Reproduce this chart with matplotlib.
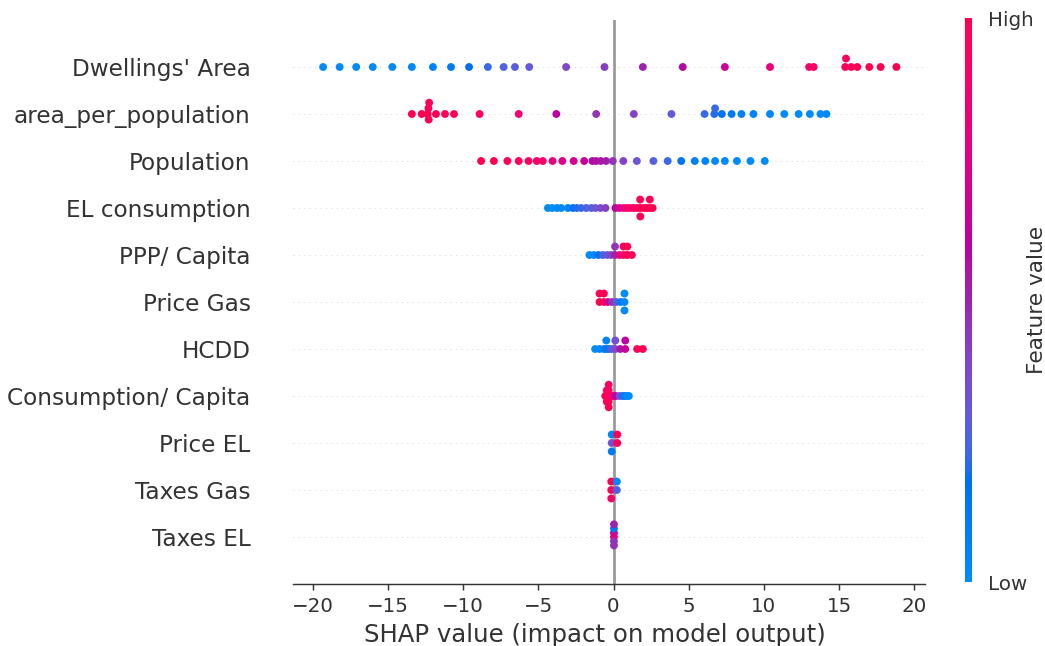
import numpy as np
import matplotlib
matplotlib.use("Agg")
import matplotlib.pyplot as plt
from matplotlib.colors import LinearSegmentedColormap, Normalize
from matplotlib.cm import ScalarMappable

# feature names, top row first
features = ["Dwellings' Area", "area_per_population", "Population", "EL consumption",
            "PPP/ Capita", "Price Gas", "HCDD", "Consumption/ Capita", "Price EL",
            "Taxes Gas", "Taxes EL"]

# SHAP values and normalised feature values (0 = low, 1 = high) per feature
dwell_shap = [-19.3, -18.2, -17.1, -16.0, -14.7, -13.4, -12.0, -10.8, -9.6, -8.35, -7.3, -6.55,
              -5.6, -3.15, -0.6, 1.95, 4.6, 7.4, 10.4, 13.0, 13.3, 15.4, 15.45, 15.8, 16.2, 17.0,
              17.75, 18.8]
dwell_val = [0, 0, 0, 0, 0, 0.02, 0.05, 0.12, 0.18, 0.22, 0.26, 0.28, 0.3, 0.38, 0.42, 0.5, 0.58,
             0.68, 0.8, 0.88, 0.9, 0.95, 0.95, 0.97, 1, 1, 1, 1]

area_shap = [-13.4, -12.75, -12.35, -12.3, -12.28, -12.25, -11.8, -11.2, -10.6, -8.9, -6.3, -3.8,
             -1.15, 1.35, 3.85, 6.05, 6.7, 6.75, 7.2, 7.85, 8.5, 9.3, 10.4, 11.35, 12.3, 13.05,
             13.75, 14.15]
area_val = [1, 1, 1, 0.97, 0.98, 0.95, 1, 0.97, 0.95, 0.93, 0.85, 0.6, 0.45, 0.4, 0.3, 0.22, 0.2,
            0.22, 0.15, 0.12, 0.08, 0.05, 0.02, 0, 0, 0, 0, 0]

pop_shap = [-8.8, -7.95, -7.05, -6.3, -5.65, -5.1, -4.7, -4.05, -3.4, -2.65, -1.95, -1.4, -1.15,
            -0.85, -0.5, -0.05, 0.65, 1.55, 2.65, 3.6, 4.5, 5.4, 6.1, 6.75, 7.4, 8.2, 9.1, 10.05]
pop_val = [1, 1, 0.98, 0.96, 0.94, 0.9, 0.86, 0.8, 0.75, 0.7, 0.65, 0.58, 0.56, 0.55, 0.52, 0.45,
           0.4, 0.33, 0.27, 0.22, 0.15, 0.1, 0.05, 0.02, 0, 0, 0, 0]

el_shap = [-4.36, -4.08, -3.76, -3.48, -3.03, -2.7, -2.44, -2.15, -1.81, -1.48, -1.2, -0.86, -0.53,
           0.13, 0.4, 0.66, 0.89, 1.1, 1.33, 1.55, 1.77, 1.77, 1.78, 2.0, 2.2, 2.4, 2.41, 2.6]
el_val = [0, 0, 0, 0.02, 0.05, 0.15, 0.2, 0.22, 0.25, 0.27, 0.32, 0.36, 0.42, 0.6, 0.7, 0.8, 0.85,
          0.9, 0.92, 0.95, 0.97, 1.0, 0.98, 1.0, 1.0, 0.98, 1.0, 1.0]

ppp_shap = [-1.6, -1.31, -1.0, -0.71, -0.42, -0.16, 0.1, 0.1, 0.4, 0.66, 0.66, 0.92, 0.92, 1.22]
ppp_val = [0.0, 0.03, 0.15, 0.25, 0.3, 0.4, 0.5, 0.45, 0.8, 0.9, 0.95, 0.95, 1.0, 0.97]

pg_shap = [-0.93, -0.93, -0.64, -0.64, -0.38, -0.11, 0.18, 0.47, 0.73, 0.73, 0.73]
pg_val = [1.0, 0.95, 0.95, 1.0, 0.7, 0.45, 0.3, 0.1, 0.03, 0.0, 0.02]

hcdd_shap = [-1.22, -0.93, -0.64, -0.48, -0.48, -0.3, -0.11, 0.12, 0.12, 0.45, 0.78, 0.78, 1.57, 1.95]
hcdd_val = [0.0, 0.02, 0.05, 0.12, 0.05, 0.2, 0.28, 0.38, 0.35, 0.55, 0.65, 0.62, 0.95, 1.0]

cc_shap = [-0.55, -0.45, -0.45, -0.45, -0.32, -0.32, -0.32, -0.32, -0.32, -0.18, -0.05, 0.15, 0.4,
           0.6, 0.75, 0.9, 1.02]
cc_val = [1.0, 1.0, 0.95, 0.98, 1.0, 0.95, 0.97, 0.92, 1.0, 0.92, 0.85, 0.6, 0.35, 0.2, 0.1, 0.03, 0.0]

pe_shap = [-0.12, -0.12, -0.12, 0.25, 0.25]
pe_val = [0.35, 0.05, 0.1, 0.95, 1.0]

tg_shap = [-0.15, -0.15, -0.15, 0.22, 0.22]
tg_val = [0.95, 1.0, 0.9, 0.25, 0.05]

te_shap = [0.03, 0.03, 0.03, 0.03, 0.03, 0.03]
te_val = [0.85, 0.7, 0.45, 0.1, 0.45, 0.5]

rows = [(dwell_shap, dwell_val), (area_shap, area_val), (pop_shap, pop_val), (el_shap, el_val),
        (ppp_shap, ppp_val), (pg_shap, pg_val), (hcdd_shap, hcdd_val), (cc_shap, cc_val),
        (pe_shap, pe_val), (tg_shap, tg_val), (te_shap, te_val)]


# ── shap's red_blue colormap (LCH interpolation) ─────────────────────────────
def lch2rgb(l, c, h):
    a, b = c * np.cos(h), c * np.sin(h)
    fy = (l + 16.0) / 116.0
    fx = a / 500.0 + fy
    fz = fy - b / 200.0

    def finv(t):
        return t ** 3 if t > 0.2068966 else (t - 16.0 / 116.0) / 7.787

    xyz = np.array([0.95047 * finv(fx), 1.0 * finv(fy), 1.08883 * finv(fz)])
    m = np.array([[3.24048134, -1.53715152, -0.49853633],
                  [-0.96925495, 1.87599, 0.04155593],
                  [0.05564664, -0.20404134, 1.05731107]])
    lin = m @ xyz
    rgb = np.where(lin > 0.0031308, 1.055 * np.abs(lin) ** (1 / 2.4) - 0.055, 12.92 * lin)
    return np.clip(rgb, 0, 1)


blue_lch = [54.0, 70.0, 4.6588]
red_lch = [54.0, 90.0, 0.35470565 + 2 * np.pi]
l_mid = 40.0
nsteps = 100
l_vals = list(np.linspace(blue_lch[0], l_mid, nsteps // 2)) + list(np.linspace(l_mid, red_lch[0], nsteps // 2))
c_vals = np.linspace(blue_lch[1], red_lch[1], nsteps)
h_vals = np.linspace(blue_lch[2], red_lch[2], nsteps)
cols = [lch2rgb(l, c, h) for l, c, h in zip(l_vals, c_vals, h_vals)]
red_blue = LinearSegmentedColormap.from_list("red_blue", cols)


def beeswarm(shaps, row_height=0.4, nbins=100):
    shaps = np.asarray(shaps, dtype=float)
    quant = np.round(nbins * (shaps - shaps.min()) / (shaps.max() - shaps.min() + 1e-8))
    inds = np.argsort(quant, kind="stable")
    ys = np.zeros(len(shaps))
    layer, last_bin = 0, -1
    for ind in inds:
        if quant[ind] != last_bin:
            layer = 0
        ys[ind] = np.ceil(layer / 2) * ((layer % 2) * 2 - 1)
        layer += 1
        last_bin = quant[ind]
    ys *= 0.9 * (row_height / np.max(ys + 1))
    return ys


axis_color = "#333333"
fig = plt.figure(figsize=(1045 / 130, 646 / 130), dpi=130)
ax = fig.add_axes([293 / 1045, 1 - 584 / 646, (925 - 293) / 1045, (584 - 20) / 646])

ax.axvline(x=0, color="#999999", zorder=-1)
n = len(features)
for i, (sv, fv) in enumerate(rows):
    pos = n - 1 - i
    ax.axhline(y=pos, color="#cccccc", lw=0.5, dashes=(1, 5), zorder=-1)
    ys = beeswarm(sv)
    ax.scatter(sv, pos + ys, c=fv, cmap=red_blue, vmin=0, vmax=1, s=19, linewidth=0,
               alpha=1, zorder=3)

ax.set_xlim(-21.3, 20.7)
ax.set_ylim(-1, n)
ax.set_yticks(range(n))
ax.set_yticklabels(features[::-1], fontsize=12.8)
ax.set_xticks(range(-20, 21, 5))
ax.tick_params(axis="y", length=0, pad=23.5, labelcolor=axis_color)
ax.tick_params(axis="x", labelsize=11, color=axis_color, labelcolor=axis_color)
ax.set_xlabel("SHAP value (impact on model output)", fontsize=13.5, color=axis_color,
              x=0.478, ha="center")
for s in ["top", "right", "left"]:
    ax.spines[s].set_visible(False)
ax.spines["bottom"].set_color(axis_color)

cax = fig.add_axes([965 / 1045, 1 - 582 / 646, 7 / 1045, (582 - 18) / 646])
sm = ScalarMappable(norm=Normalize(0, 1), cmap=red_blue)
cb = fig.colorbar(sm, cax=cax, ticks=[0, 1])
cb.set_ticklabels(["Low", "High"])
cb.set_label("Feature value", size=12, labelpad=-4, color=axis_color)
cb.ax.tick_params(labelsize=11, length=0, pad=9, labelcolor=axis_color)
cb.outline.set_visible(False)

fig.savefig("out.png", dpi=130)
